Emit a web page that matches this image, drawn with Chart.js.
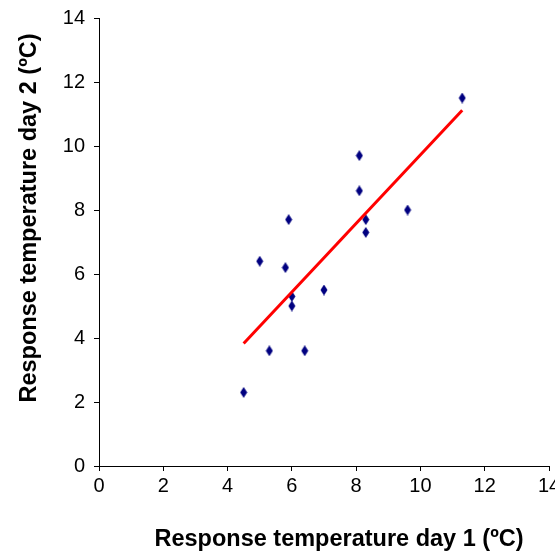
<!DOCTYPE html>
<html>
<head>
<meta charset="utf-8">
<script src="https://cdn.jsdelivr.net/npm/chart.js@4/dist/chart.umd.min.js"></script>
<style>
  html, body { margin: 0; padding: 0; background: #fff; }
  #wrap { width: 555px; height: 553px; }
</style>
</head>
<body>
<div id="wrap"><canvas id="chart" width="555" height="553"></canvas></div>
<script>
// day 1 / day 2 response temperatures
var day1 = [4.5, 5.0, 5.3, 5.8, 5.9, 6.0, 6.0, 6.4, 7.0, 8.1, 8.1, 8.3, 8.3, 9.6, 11.3];
var day2 = [2.3, 6.4, 3.6, 6.2, 7.7, 5.3, 5.0, 3.6, 5.5, 9.7, 8.6, 7.7, 7.3, 8.0, 11.5];
// trend line end points
var trendX = [4.5, 11.3];
var trendY = [3.83, 11.12];
var xTitle = 'Response temperature day 1 (ºC)';
var yTitle = 'Response temperature day 2 (ºC)';

var FONT = '"Liberation Sans", Arial, sans-serif';

// tall narrow diamond marker
function diamond(){
  var c = document.createElement('canvas');
  c.width = 8; c.height = 11;
  var g = c.getContext('2d');
  g.fillStyle = '#000080';
  g.beginPath();
  g.moveTo(4, 0);
  g.lineTo(7.5, 5.5);
  g.lineTo(4, 11);
  g.lineTo(0.5, 5.5);
  g.closePath();
  g.fill();
  return c;
}

var points = day1.map(function(v, i){ return {x: v, y: day2[i]}; });
var trend = trendX.map(function(v, i){ return {x: v, y: trendY[i]}; });

// axis titles, placed like the original
var titlePlugin = {
  id: 'axisTitles',
  afterDraw: function(chart){
    var ctx = chart.ctx;
    ctx.save();
    ctx.fillStyle = '#000';
    ctx.font = 'bold 23.5px ' + FONT;
    ctx.textAlign = 'center';
    ctx.textBaseline = 'middle';
    ctx.fillText(xTitle, 339, 540);
    ctx.translate(30, 218);
    ctx.rotate(-Math.PI / 2);
    ctx.fillText(yTitle, 0, 0);
    ctx.restore();
  }
};

function fixPad(scale){
  scale.paddingLeft = 0; scale.paddingRight = 0;
  scale.paddingTop = 0; scale.paddingBottom = 0;
}

new Chart(document.getElementById('chart'), {
  type: 'scatter',
  data: {
    datasets: [
      {
        data: trend,
        type: 'line',
        borderColor: '#ff0000',
        borderWidth: 3,
        pointRadius: 0,
        fill: false
      },
      {
        data: points,
        pointStyle: diamond(),
        pointRadius: 5,
        backgroundColor: '#000080',
        borderColor: '#000080'
      }
    ]
  },
  options: {
    responsive: false,
    animation: false,
    layout: { padding: { top: 18, right: 6, left: 0, bottom: 0 } },
    plugins: { legend: { display: false }, tooltip: { enabled: false } },
    scales: {
      x: {
        type: 'linear', min: 0, max: 14,
        ticks: { stepSize: 2, color: '#000', font: { family: FONT, size: 20 }, padding: 3, maxRotation: 0 },
        grid: { drawOnChartArea: false, color: '#000', tickLength: 5 },
        border: { color: '#000' },
        afterFit: function(scale){ scale.height = 87; fixPad(scale); }
      },
      y: {
        type: 'linear', min: 0, max: 14,
        ticks: { stepSize: 2, color: '#000', font: { family: FONT, size: 20 }, padding: 9 },
        grid: { drawOnChartArea: false, color: '#000', tickLength: 5 },
        border: { color: '#000' },
        afterFit: function(scale){ scale.width = 99; fixPad(scale); }
      }
    }
  },
  plugins: [titlePlugin]
});
</script>
</body>
</html>
